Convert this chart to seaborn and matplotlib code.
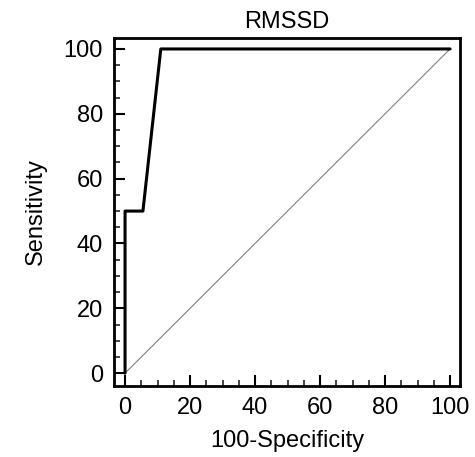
import matplotlib
matplotlib.use("Agg")
import matplotlib.pyplot as plt
import numpy as np
import pandas as pd
import seaborn as sns
from matplotlib.ticker import MultipleLocator

# ROC curve points
fpr = [0, 0, 5.5, 11, 100]
tpr = [0, 50, 50, 100, 100]
diag_x = [0, 100]
diag_y = [0, 100]

sns.set_theme(style="ticks")
plt.rcParams["font.family"] = ["Liberation Sans", "DejaVu Sans"]
plt.rcParams["text.color"] = "black"
plt.rcParams["axes.labelcolor"] = "black"

fig = plt.figure(figsize=(4.75, 4.57), dpi=100)
ax = fig.add_axes([0.24, 0.155, 0.728, 0.762])

roc = pd.DataFrame({"x": fpr, "y": tpr})
ref = pd.DataFrame({"x": diag_x, "y": diag_y})

sns.lineplot(data=ref, x="x", y="y", ax=ax, color="#808080", linewidth=0.8,
             sort=False, estimator=None)
sns.lineplot(data=roc, x="x", y="y", ax=ax, color="black", linewidth=2.2,
             sort=False, estimator=None)

ax.set_xlim(-3.4, 103)
ax.set_ylim(-4, 103.4)
ax.xaxis.set_major_locator(MultipleLocator(20))
ax.yaxis.set_major_locator(MultipleLocator(20))
ax.xaxis.set_minor_locator(MultipleLocator(5))
ax.yaxis.set_minor_locator(MultipleLocator(5))
ax.tick_params(which="major", direction="in", length=8, width=1.5,
               labelsize=17, colors="black", pad=8)
ax.tick_params(which="minor", direction="in", length=4.5, width=1.2)

for s in ax.spines.values():
    s.set_linewidth(2)
    s.set_color("black")

ax.set_title("RMSSD", fontsize=17, pad=7)
ax.set_xlabel("100-Specificity", fontsize=17, labelpad=8)
ax.set_ylabel("Sensitivity", fontsize=17, labelpad=12)

fig.savefig("out.png", dpi=100)
